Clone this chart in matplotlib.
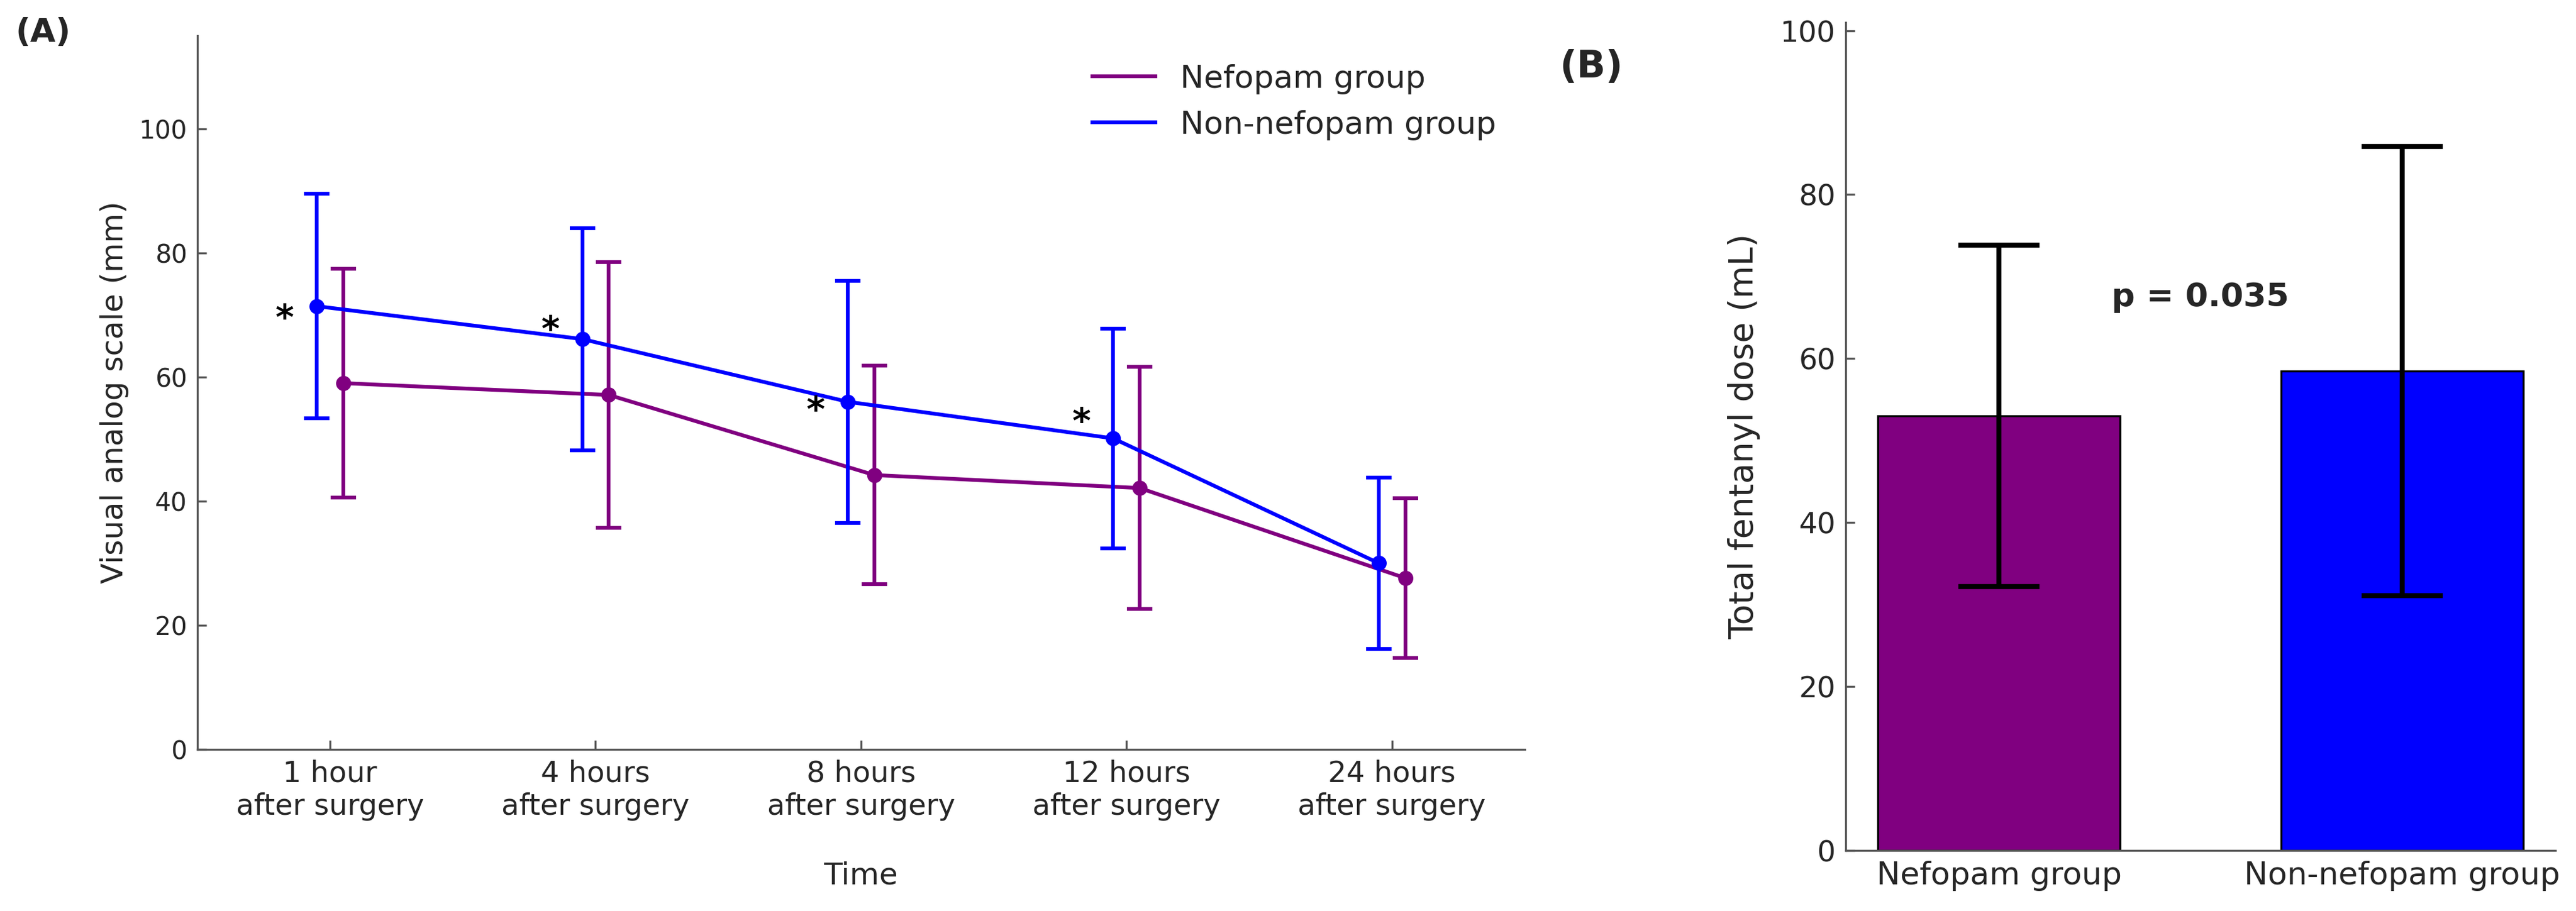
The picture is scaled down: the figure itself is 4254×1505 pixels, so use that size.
import matplotlib
matplotlib.use("Agg")
import matplotlib.pyplot as plt
import numpy as np

# ---------------- data ----------------
time_labels = ["1 hour\nafter surgery", "4 hours\nafter surgery", "8 hours\nafter surgery",
               "12 hours\nafter surgery", "24 hours\nafter surgery"]
nefopam_mean = [59.0, 57.1, 44.2, 42.1, 27.6]
nefopam_sd = [18.4, 21.4, 17.6, 19.5, 12.9]
non_nefopam_mean = [71.4, 66.1, 56.0, 50.1, 30.0]
non_nefopam_sd = [18.1, 17.9, 19.5, 17.7, 13.8]
significant_idx = [0, 1, 2, 3]
asterisk_y = [70.8, 69.0, 56.0, 54.1]

groups = ["Nefopam group", "Non-nefopam group"]
fentanyl_mean = [53.0, 58.5]
fentanyl_sd = [20.8, 27.4]
p_label = "p = 0.035"

PURPLE = "#800080"
BLUE = "#0000ff"
SPINE = "#555555"
TEXT = "#262626"

plt.rcParams["font.family"] = ["DejaVu Sans"]

fig = plt.figure(figsize=(4254 / 300, 1505 / 300), dpi=300)

# ---------------- panel A ----------------
axA = fig.add_axes([0.0766, 0.1774, 0.5153, 0.7836])
x = np.arange(len(time_labels))
off = 0.05

axA.errorbar(x + off, nefopam_mean, yerr=nefopam_sd, fmt="o", color=PURPLE,
             ms=5, elinewidth=1.5, capsize=5, capthick=1.5, zorder=2)
axA.plot(x + off, nefopam_mean, color=PURPLE, lw=1.5, label="Nefopam group", zorder=2)
axA.errorbar(x - off, non_nefopam_mean, yerr=non_nefopam_sd, fmt="o", color=BLUE,
             ms=5, elinewidth=1.5, capsize=5, capthick=1.5, zorder=3)
axA.plot(x - off, non_nefopam_mean, color=BLUE, lw=1.5, label="Non-nefopam group", zorder=3)

for i, yv in zip(significant_idx, asterisk_y):
    axA.annotate("*", (x[i] - 0.17, yv), xytext=(0, -7.7), textcoords="offset points",
                 ha="center", va="baseline", fontsize=14, fontweight="bold", color="black")

axA.set_xlim(-0.5, 4.5)
axA.set_ylim(0, 115)
axA.set_yticks([0, 20, 40, 60, 80, 100])
axA.set_xticks(x)
axA.set_xticklabels(time_labels, fontsize=11.5, color=TEXT)
axA.tick_params(axis="y", labelsize=10, labelcolor=TEXT)
axA.tick_params(direction="in", length=3.5, width=0.8, color=SPINE, pad=4)
axA.set_xlabel("Time", fontsize=12, color=TEXT, labelpad=16)
axA.set_ylabel("Visual analog scale (mm)", fontsize=12, color=TEXT, labelpad=4)
for s in ["top", "right"]:
    axA.spines[s].set_visible(False)
for s in ["left", "bottom"]:
    axA.spines[s].set_color(SPINE)
    axA.spines[s].set_linewidth(0.8)
leg = axA.legend(loc="upper right", frameon=False, fontsize=12.5)
for t in leg.get_texts():
    t.set_color(TEXT)

# ---------------- panel B ----------------
axB = fig.add_axes([0.7165, 0.0664, 0.2755, 0.909])
xb = np.arange(len(groups))
axB.bar(xb, fentanyl_mean, width=0.6, color=[PURPLE, BLUE], edgecolor="black", linewidth=0.8,
        zorder=2)
axB.errorbar(xb, fentanyl_mean, yerr=fentanyl_sd, fmt="none", ecolor="black",
             elinewidth=2, capsize=16, capthick=2, zorder=3)
axB.text(0.5, 67.5, p_label, ha="center", va="center", fontsize=13, fontweight="bold",
         color=TEXT)
axB.set_ylim(0, 101)
axB.set_yticks([0, 20, 40, 60, 80, 100])
axB.set_xticks(xb)
axB.set_xticklabels(groups, fontsize=12.5, color=TEXT)
axB.tick_params(axis="y", labelsize=11.5, labelcolor=TEXT)
axB.tick_params(direction="in", length=3.5, width=0.8, color=SPINE, pad=4)
axB.set_ylabel("Total fentanyl dose (mL)", fontsize=13.3, color=TEXT, labelpad=8)
for s in ["top", "right"]:
    axB.spines[s].set_visible(False)
for s in ["left", "bottom"]:
    axB.spines[s].set_color(SPINE)
    axB.spines[s].set_linewidth(0.8)

# ---------------- panel letters ----------------
fig.text(25 / 4254, 1 - 54 / 1505, "(A)", fontsize=13, fontweight="bold", color=TEXT,
         ha="left", va="center")
fig.text(2576 / 4254, 1 - 111 / 1505, "(B)", fontsize=15, fontweight="bold", color=TEXT,
         ha="left", va="center")

fig.savefig("out.png", dpi=300)
